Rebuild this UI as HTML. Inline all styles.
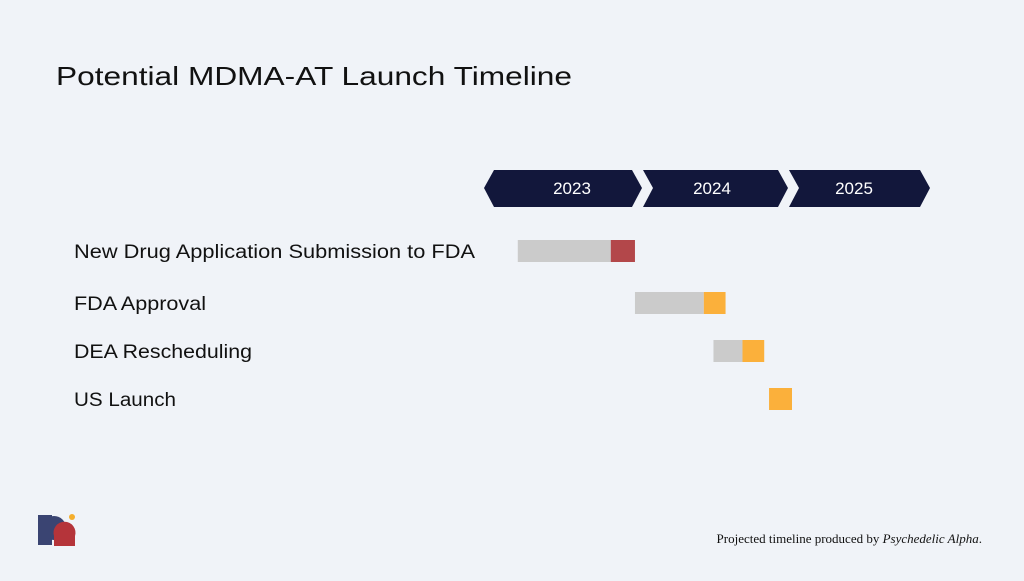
<!DOCTYPE html>
<html><head><meta charset="utf-8"><style>
body{margin:0;width:1024px;height:576px;background:#f0f3f8;overflow:hidden;font-family:"Liberation Sans",sans-serif}
</style></head><body>
<svg width="1024" height="576">
<text x="56" y="85" font-size="26" fill="#111" textLength="516" lengthAdjust="spacingAndGlyphs">Potential MDMA-AT Launch Timeline</text>
<g id="banner"></g>
<g id="rows"></g>
<g>
<rect x="38" y="515" width="14" height="30" fill="#3a4472"/>
<circle cx="54" cy="528" r="12" fill="#3a4472"/>
<path d="M54 546 L75 546 L75 536 A11 11 0 1 0 54 536 Z" fill="#b5343a"/>
<circle cx="72" cy="517" r="3" fill="#f5ae2c"/>
</g>
<text x="982" y="543" font-size="13" text-anchor="end" font-family="Liberation Serif,serif" fill="#111">Projected timeline produced by <tspan font-style="italic">Psychedelic Alpha</tspan>.</text>
</svg>
<script>
const years=["2023","2024","2025"];
const tasks=["New Drug Application Submission to FDA","FDA Approval","DEA Rescheduling","US Launch"];
const grayStart=[2.3,12.0,18.5,null];
const grayEnd=[10.0,17.7,20.9,null];
const phaseEnd=[12.0,19.5,22.7,25.0];
const phaseColor=["#b3474a","#fbb03b","#fbb03b","#fbb03b"];
const ns="http://www.w3.org/2000/svg";
const x0=490,pxm=12.08;
function X(m){return x0+m*pxm;}
const rowY=[240,292,340,388];
const labelW=[401,132,178,102];
const yearX=[572,712,854];
const bounds=[484,640,786,928];
const b=document.getElementById("banner");
years.forEach((yr,i)=>{
 const l=bounds[i],r=bounds[i+1];
 const p=document.createElementNS(ns,"polygon");
 const pts=i==0?[[l,188],[l+10,170],[r-8,170],[r+2,188],[r-8,207],[l+10,207]]:[[l+3,170],[r-8,170],[r+2,188],[r-8,207],[l+3,207],[l+13,188]];
 p.setAttribute("points",pts.map(a=>a.join(",")).join(" "));
 p.setAttribute("fill","#12173b");
 
 
 b.appendChild(p);
 const t=document.createElementNS(ns,"text");
 t.setAttribute("x",yearX[i]);t.setAttribute("y",194);t.setAttribute("fill","#fff");t.setAttribute("font-size","17");t.setAttribute("text-anchor","middle");
 t.textContent=yr;
 
 
 b.appendChild(t);
});
const g=document.getElementById("rows");
tasks.forEach((tk,i)=>{
 const y=rowY[i];
 const t=document.createElementNS(ns,"text");
 t.setAttribute("x",74);t.setAttribute("y",y+18);t.setAttribute("font-size","19");t.setAttribute("fill","#111");
 t.setAttribute("textLength",labelW[i]);t.setAttribute("lengthAdjust","spacingAndGlyphs");
 t.textContent=tk;
 
 
 g.appendChild(t);
 let ps;
 if(grayStart[i]!=null){
  const r=document.createElementNS(ns,"rect");
  r.setAttribute("x",X(grayStart[i]));r.setAttribute("y",y);r.setAttribute("width",X(grayEnd[i])-X(grayStart[i]));r.setAttribute("height",22);r.setAttribute("fill","#cbcbcb");
  
  
  g.appendChild(r);
  ps=grayEnd[i];
 } else ps=phaseEnd[i]-1.9;
 const r2=document.createElementNS(ns,"rect");
 r2.setAttribute("x",X(ps));r2.setAttribute("y",y);r2.setAttribute("width",X(phaseEnd[i])-X(ps));r2.setAttribute("height",22);r2.setAttribute("fill",phaseColor[i]);
 
 
 g.appendChild(r2);
});
</script>
</body></html>
